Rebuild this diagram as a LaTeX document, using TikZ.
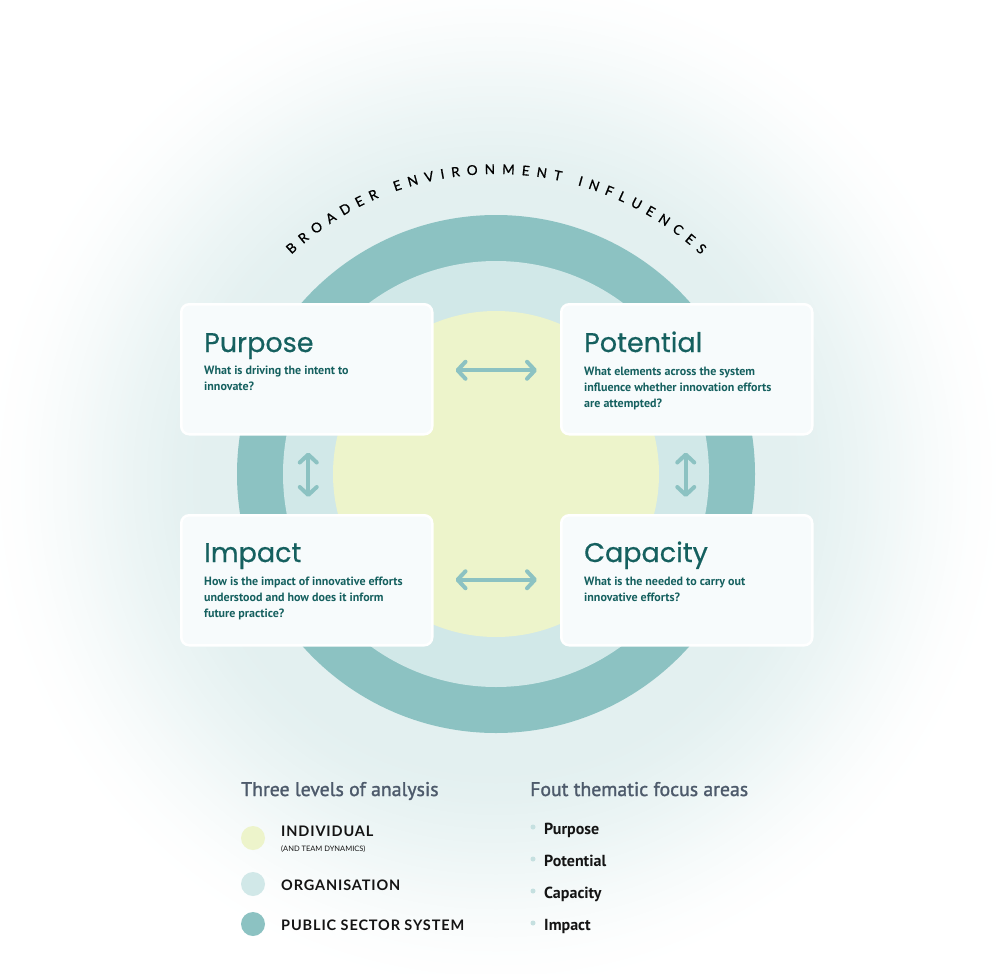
\documentclass[tikz,border=0pt]{standalone}
\usepackage{fontspec}
\setmainfont{PT Sans}
\newfontfamily\titlefont[FakeBold=0.5]{Poppins}
\newfontfamily\capsfont{Lato}
\newfontfamily\headfont[FakeBold=1.4]{PT Sans}
\usetikzlibrary{arrows.meta,decorations.text}
\definecolor{glowc}{HTML}{E3F0F0}
\definecolor{outerc}{HTML}{8CC2C2}
\definecolor{orgc}{HTML}{D1E8E8}
\definecolor{bulc}{HTML}{C5E0E0}
\definecolor{indc}{HTML}{EDF4CB}
\definecolor{boxc}{HTML}{F7FBFC}
\definecolor{titlec}{HTML}{15605F}
\definecolor{legc}{HTML}{4D5A6B}
\definecolor{txtc}{HTML}{141414}
\newcommand\arcfont{\capsfont\addfontfeature{FakeBold=0.8}\fontsize{13.5}{13.5}\selectfont}
\begin{document}
\begin{tikzpicture}[x=1pt,y=1pt,
  box/.style={draw=white, line width=2.5pt, fill=boxc, rounded corners=8pt,
    minimum width=251pt, minimum height=130pt, anchor=north west, inner sep=0pt},
  ttl/.style={anchor=base west, inner sep=0pt, text=titlec,
    font=\titlefont\fontsize{27}{27}\selectfont},
  sub/.style={anchor=base west, inner sep=0pt, text=titlec,
    font=\bfseries\fontsize{12}{12}\selectfont},
  dbl/.style={draw=outerc, line width=4pt,
    {Straight Barb[length=8pt,width=17pt,round]}-{Straight Barb[length=8pt,width=17pt,round]}},
  leghead/.style={anchor=base west, inner sep=0pt, text=legc,
    font=\headfont\fontsize{19.8}{19.8}\selectfont},
  legdot/.style={circle, inner sep=0pt, minimum size=24pt},
  leglab/.style={anchor=base west, inner sep=0pt, text=txtc,
    font=\capsfont\bfseries\addfontfeature{LetterSpace=6}\fontsize{14.5}{14.5}\selectfont},
  legsmall/.style={anchor=base west, inner sep=0pt, text=txtc,
    font=\capsfont\fontsize{7.5}{7.5}\selectfont},
  bul/.style={circle, inner sep=0pt, minimum size=5pt, fill=bulc},
  item/.style={anchor=base west, inner sep=0pt, text=txtc,
    font=\bfseries\fontsize{16}{16}\selectfont}
]
\useasboundingbox (0,0) rectangle (996,-974);
\fill[white] (0,0) rectangle (996,-974);
% environment glow
\coordinate (g) at (496,-480);
\foreach \i in {0,...,70}{
  \pgfmathsetmacro\rr{520-\i*3.5}
  \pgfmathsetmacro\tt{\i/70}
  \pgfmathsetmacro\pp{100*\tt*\tt*(3-2*\tt)}
  \fill[glowc!\pp!white] (g) circle (\rr);
}
% levels
\coordinate (c) at (496,-474);
\fill[outerc] (c) circle (259);
\fill[orgc] (c) circle (213);
\fill[indc] (c) circle (163);
% arc text
\path[decorate, decoration={text along path,
    text={|\arcfont|BROADER ENVIRONMENT INFLUENCES}, text align=fit to path}]
  ([shift={(133:300)}]c) arc[start angle=133, end angle=47, radius=300];
% boxes
\node[box] (purpose) at (180,-303) {};
\node[box] (potential) at (560,-303) {};
\node[box] (impact) at (180,-514) {};
\node[box] (capacity) at (560,-514) {};
% titles
\node[ttl] (purposeT) at (204,-352) {Purpose};
\node[ttl] (potentialT) at (584,-352) {Potential};
\node[ttl] (impactT) at (204,-562) {Impact};
\node[ttl] (capacityT) at (584,-562) {Capacity};
% questions
\node[sub] (pu1) at (204,-374) {What is driving the intent to};
\node[sub] (pu2) at (204,-390) {innovate?};
\node[sub] (po1) at (584,-375) {What elements across the system};
\node[sub] (po2) at (584,-391) {influence whether innovation efforts};
\node[sub] (po3) at (584,-407) {are attempted?};
\node[sub] (im1) at (204,-585) {How is the impact of innovative efforts};
\node[sub] (im2) at (204,-601) {understood and how does it inform};
\node[sub] (im3) at (204,-617) {future practice?};
\node[sub] (ca1) at (584,-585) {What is the needed to carry out};
\node[sub] (ca2) at (584,-601) {innovative efforts?};
% arrows
\draw[dbl, shorten <=22pt, shorten >=23pt] ([yshift=-1pt]purpose.east) -- ([yshift=-1pt]potential.west);
\draw[dbl, shorten <=22pt, shorten >=23pt] ([yshift=0.5pt]impact.east) -- ([yshift=0.5pt]capacity.west);
\draw[dbl, shorten <=17pt, shorten >=17pt] ([xshift=1.5pt]purpose.south) -- ([xshift=1.5pt]impact.north);
\draw[dbl, shorten <=17pt, shorten >=17pt] ([xshift=-1pt]potential.south) -- ([xshift=-1pt]capacity.north);
% legend left
\node[leghead] (lh1) at (241,-796) {Three levels of analysis};
\node[legdot, fill=indc] (dind) at (253,-838) {};
\node[legdot, fill=orgc] (dorg) at (253,-884) {};
\node[legdot, fill=outerc] (dpub) at (253,-924) {};
\node[leglab] (lind) at (281,-836) {INDIVIDUAL};
\node[legsmall] (lteam) at (281,-851) {(AND TEAM DYNAMICS)};
\node[leglab] (lorg) at (281,-890) {ORGANISATION};
\node[leglab] (lpub) at (281,-930) {PUBLIC SECTOR SYSTEM};
% legend right
\node[leghead] (lh2) at (530,-796) {Fout thematic focus areas};
\node[bul] (b1) at (533,-827) {};
\node[bul] (b2) at (533,-859) {};
\node[bul] (b3) at (533,-891) {};
\node[bul] (b4) at (533,-923) {};
\node[item] (i1) at (544,-834) {Purpose};
\node[item] (i2) at (544,-866) {Potential};
\node[item] (i3) at (544,-898) {Capacity};
\node[item] (i4) at (544,-930) {Impact};
\end{tikzpicture}
\end{document}
